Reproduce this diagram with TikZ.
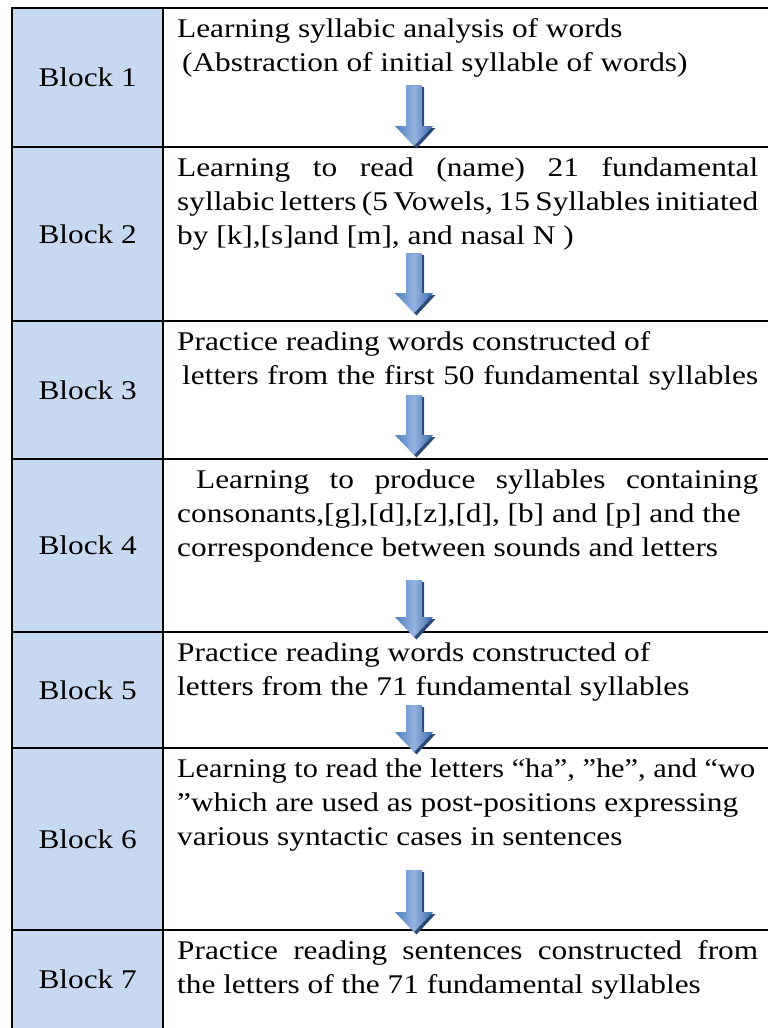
\documentclass[tikz,border=0pt]{standalone}
\usepackage{fontspec}
\usepackage{graphicx}
\setmainfont{Liberation Serif}[FakeStretch=1.16]
\usetikzlibrary{calc}
\definecolor{cellblue}{HTML}{C6D9F1}
\definecolor{arrlight}{HTML}{94B4E0}
\definecolor{arrmid}{HTML}{4E7FC0}
\definecolor{arrdark}{HTML}{3B68A8}
\definecolor{arrshadow}{HTML}{2B4A7A}
\newcommand\cellfont{\fontsize{27}{34}\selectfont}
\newlength\rowwd
\setlength\rowwd{581pt}
\newcommand\fullline[1]{\makebox[\rowwd][s]{\spaceskip=0pt\xspaceskip=0pt #1}}
\newcommand\plainline[1]{\mbox{\spaceskip=0pt\xspaceskip=0pt #1}}
\newcommand\fitline[2]{\resizebox{#1}{\height}{\spaceskip=0pt\xspaceskip=0pt #2}}
\newcommand\blockarrow[2]{%
 \fill[arrshadow] let \p1=(#1),\p2=(#2) in
   (\x1-5pt,\y1-2pt) -- (\x1+10pt,\y1-2pt) -- (\x1+10pt,\y2+18pt) -- (\x1+21.5pt,\y2+18pt)
   -- (\x1+2.5pt,\y2-2.5pt) -- (\x1-16.5pt,\y2+18pt) -- (\x1-5pt,\y2+18pt) -- cycle;
 \shade[left color=arrmid, right color=arrdark, middle color=arrlight] let \p1=(#1),\p2=(#2) in
   (\x1-8pt,\y1) -- (\x1+8pt,\y1) -- (\x1+8pt,\y2+20pt) -- (\x1+19pt,\y2+20pt)
   -- (\x1,\y2) -- (\x1-19pt,\y2+20pt) -- (\x1-8pt,\y2+20pt) -- cycle;
}
\tikzset{
 labelcell/.style={draw=none, fill=cellblue, minimum width=151pt, inner sep=0pt, font=\cellfont, anchor=north west},
 celltext/.style={anchor=base west, inner sep=0pt, text width=581pt, align=left, font=\cellfont},
 rule/.style={line width=1.8pt, line cap=rect},
}
\begin{document}
\begin{tikzpicture}[x=1pt,y=-1pt]
\useasboundingbox (0,0) rectangle (768,1028);
\fill[white] (0,0) rectangle (768,1028);
% label cells
\node[labelcell, minimum height=139pt] (b1) at (12,8) {Block 1};
\node[labelcell, minimum height=174pt] (b2) at (12,147) {Block 2};
\node[labelcell, minimum height=138pt] (b3) at (12,321) {Block 3};
\node[labelcell, minimum height=173pt] (b4) at (12,459) {Block 4};
\node[labelcell, minimum height=116pt] (b5) at (12,632) {Block 5};
\node[labelcell, minimum height=182pt] (b6) at (12,748) {Block 6};
\node[labelcell, minimum height=98pt] (b7) at (12,930) {Block 7};
% text cells
\node[celltext] (t1) at (177,37) {\plainline{Learning syllabic analysis of words}\\
 \plainline{\hspace*{5pt}(Abstraction of initial syllable of words)}};
\node[celltext] (t2) at (177,176) {\fullline{Learning to read (name) 21 fundamental}\\
 \fullline{syllabic letters (5 Vowels, 15 Syllables initiated}\\
 \plainline{by [k],[s]and [m], and nasal N )}};
\node[celltext] (t3) at (177,350) {\plainline{Practice reading words constructed of}\\
 \fullline{\hspace*{5pt}letters from the first 50 fundamental syllables}};
\node[celltext] (t4) at (177,488) {\fullline{\hspace*{19pt}Learning to produce syllables containing}\\
 \plainline{consonants,[g],[d],[z],[d], [b] and [p] and the}\\
 \plainline{correspondence between sounds and letters}};
\node[celltext] (t5) at (177,661) {\plainline{Practice reading words constructed of}\\
 \plainline{letters from the 71 fundamental syllables}};
\node[celltext] (t6) at (177,777) {\fitline{578pt}{Learning to read the letters “ha”, ”he”, and “wo}\\
 \plainline{”which are used as post-positions expressing}\\
 \plainline{various syntactic cases in sentences}};
\node[celltext] (t7) at (177,959) {\fullline{Practice reading sentences constructed from}\\
 \plainline{the letters of the 71 fundamental syllables}};
% grid
\draw[rule] (12,8) -- (768,8);
\foreach \yy in {147,321,459,632,748,930} \draw[rule] (12,\yy) -- (768,\yy);
\draw[rule] (12,8) -- (12,1030);
\draw[rule] (163,8) -- (163,1030);
% arrows
\coordinate (a1s) at (414,85);  \coordinate (a1e) at (414,146);
\coordinate (a2s) at (414,253); \coordinate (a2e) at (414,313);
\coordinate (a3s) at (414,395); \coordinate (a3e) at (414,455);
\coordinate (a4s) at (414,580); \coordinate (a4e) at (414,637);
\coordinate (a5s) at (414,705); \coordinate (a5e) at (414,752);
\coordinate (a6s) at (414,870); \coordinate (a6e) at (414,932);
\blockarrow{a1s}{a1e}
\blockarrow{a2s}{a2e}
\blockarrow{a3s}{a3e}
\blockarrow{a4s}{a4e}
\blockarrow{a5s}{a5e}
\blockarrow{a6s}{a6e}
\end{tikzpicture}
\end{document}
